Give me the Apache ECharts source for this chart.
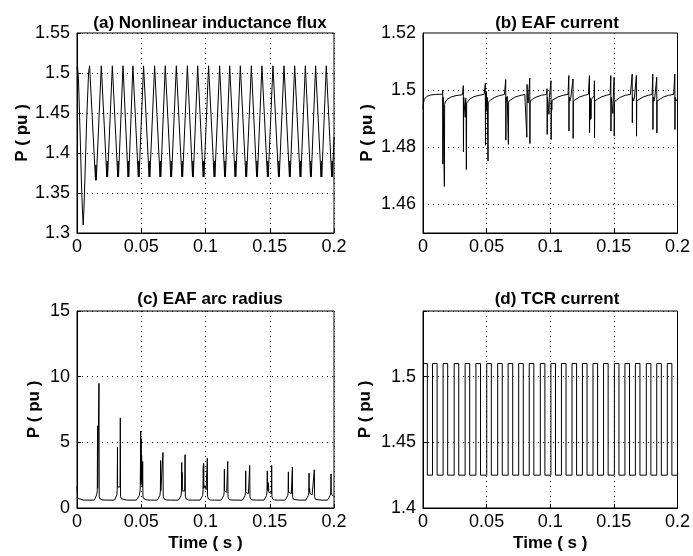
<!DOCTYPE html>
<html><head><meta charset="utf-8">
<script src="https://cdn.jsdelivr.net/npm/echarts@6/dist/echarts.min.js"></script>
<style>html,body{margin:0;padding:0;background:#fff}#c{width:693px;height:556px}</style>
</head><body><div id="c"></div>
<script>
const panelTitles = ['(a) Nonlinear inductance flux', '(b) EAF current', '(c) EAF arc radius', '(d) TCR current'];
const yName = 'P ( pu )';
const xName = 'Time ( s )';
const xTicks = [0, 0.05, 0.1, 0.15, 0.2];
const yTicksA = [1.3, 1.35, 1.4, 1.45, 1.5, 1.55];
const yTicksB = [1.46, 1.48, 1.5, 1.52];
const yTicksC = [0, 5, 10, 15];
const yTicksD = [1.4, 1.45, 1.5];

// (a) Nonlinear inductance flux  [time s, value pu]
const fluxData = [
[0,1.505],[0.0004,1.509],[0.0012,1.49],[0.0025,1.42],[0.0035,1.36],[0.0042,1.33],[0.0048,1.31],[0.0054,1.33],[0.0062,1.37],[0.0075,1.44],[0.0090,1.50],
[0.0098,1.509],[0.0104,1.509],[0.0144,1.366],[0.0147,1.385],[0.0150,1.366],
[0.0189,1.509],[0.0195,1.509],[0.0232,1.37],[0.0235,1.39],[0.0238,1.37],
[0.0275,1.509],[0.0281,1.509],[0.0317,1.37],[0.0320,1.39],[0.0323,1.37],
[0.0358,1.509],[0.0364,1.509],[0.0397,1.37],[0.0400,1.39],[0.0403,1.37],
[0.0435,1.509],[0.0441,1.509],[0.0477,1.37],[0.0480,1.39],[0.0483,1.37],
[0.0518,1.509],[0.0524,1.509],[0.0561,1.37],[0.0564,1.39],[0.0567,1.37],
[0.0604,1.509],[0.0610,1.509],[0.0646,1.37],[0.0649,1.39],[0.0652,1.37],
[0.0687,1.509],[0.0693,1.509],[0.0730,1.37],[0.0733,1.39],[0.0736,1.37],
[0.0773,1.509],[0.0779,1.509],[0.0816,1.37],[0.0819,1.39],[0.0822,1.37],
[0.0859,1.509],[0.0865,1.509],[0.0899,1.37],[0.0902,1.39],[0.0905,1.37],
[0.0939,1.509],[0.0945,1.509],[0.0982,1.37],[0.0985,1.39],[0.0988,1.37],
[0.1024,1.509],[0.1030,1.509],[0.1067,1.37],[0.1070,1.39],[0.1073,1.37],
[0.1110,1.509],[0.1116,1.509],[0.1149,1.37],[0.1152,1.39],[0.1155,1.37],
[0.1188,1.509],[0.1194,1.509],[0.1230,1.37],[0.1233,1.39],[0.1236,1.37],
[0.1271,1.509],[0.1277,1.509],[0.1314,1.37],[0.1317,1.39],[0.1320,1.37],
[0.1357,1.509],[0.1363,1.509],[0.1398,1.37],[0.1401,1.39],[0.1404,1.37],
[0.1439,1.509],[0.1445,1.509],[0.1482,1.37],[0.1485,1.39],[0.1488,1.37],
[0.1525,1.509],[0.1531,1.509],[0.1568,1.37],[0.1571,1.39],[0.1574,1.37],
[0.1611,1.509],[0.1617,1.509],[0.1653,1.37],[0.1656,1.39],[0.1659,1.37],
[0.1694,1.509],[0.1700,1.509],[0.1736,1.37],[0.1739,1.39],[0.1742,1.37],
[0.1777,1.509],[0.1783,1.509],[0.1817,1.37],[0.1820,1.39],[0.1823,1.37],
[0.1857,1.509],[0.1863,1.509],[0.1899,1.37],[0.1902,1.39],[0.1905,1.37],
[0.1940,1.509],[0.1946,1.509],[0.1982,1.37],[0.1985,1.39],[0.1988,1.37],
[0.2000,1.42]
];

// (b) EAF current
const eafCurrentData = [
[0,1.4935],[0.0003,1.4955],[0.001,1.4968],[0.003,1.4978],[0.006,1.4983],[0.010,1.4985],[0.0153,1.4986],
[0.0155,1.5000],[0.0156,1.4741],[0.0158,1.4975],[0.0166,1.4972],[0.0168,1.4663],[0.0170,1.4950],[0.0175,1.4958],[0.019,1.4968],[0.022,1.4976],[0.026,1.4981],[0.031,1.4984],
[0.0315,1.4985],[0.0317,1.5016],[0.0318,1.4784],[0.0320,1.4975],[0.0328,1.4975],[0.0332,1.4905],[0.0336,1.4972],[0.0339,1.4900],[0.0341,1.4722],[0.0343,1.4955],[0.035,1.4962],[0.037,1.497],[0.040,1.4977],[0.044,1.4982],[0.048,1.4985],
[0.0488,1.4986],[0.0490,1.5024],[0.0491,1.4807],[0.0493,1.4990],[0.0496,1.4925],[0.0499,1.4995],[0.0502,1.4930],[0.0505,1.4975],[0.0509,1.4970],[0.0511,1.4752],[0.0513,1.4958],[0.053,1.4965],[0.056,1.4974],[0.060,1.4981],[0.064,1.4985],
[0.0649,1.4986],[0.0650,1.5037],[0.0651,1.4825],[0.0653,1.4975],[0.0658,1.4960],[0.0662,1.4978],[0.0669,1.4972],[0.0671,1.4810],[0.0673,1.4960],[0.069,1.4966],[0.072,1.4975],[0.076,1.4981],[0.080,1.4985],
[0.0814,1.4986],[0.0816,1.4835],[0.0818,1.5020],[0.0820,1.4975],[0.0826,1.4955],[0.0830,1.4978],[0.0837,1.4980],[0.0839,1.5042],[0.0840,1.4813],[0.0842,1.4962],[0.086,1.4968],[0.089,1.4976],[0.093,1.4982],[0.097,1.4985],
[0.0974,1.4986],[0.0975,1.5005],[0.0976,1.4845],[0.0978,1.4975],[0.0985,1.4968],[0.0990,1.4915],[0.0993,1.4975],[0.1004,1.4978],[0.1006,1.5033],[0.1007,1.4827],[0.1009,1.4960],[0.1012,1.4930],[0.1015,1.4965],[0.103,1.4968],[0.106,1.4976],[0.110,1.4982],[0.114,1.4985],
[0.1145,1.4986],[0.1146,1.5051],[0.1147,1.4857],[0.1149,1.4975],[0.1155,1.4962],[0.1162,1.4975],[0.1177,1.4980],[0.1179,1.5039],[0.1180,1.4831],[0.1182,1.4962],[0.120,1.4968],[0.123,1.4976],[0.127,1.4982],[0.130,1.4985],
[0.1307,1.4986],[0.1308,1.5051],[0.1309,1.4851],[0.1311,1.4975],[0.1314,1.4896],[0.1317,1.4970],[0.1320,1.4900],[0.1323,1.4968],[0.1345,1.4980],[0.1347,1.5033],[0.1348,1.4833],[0.1350,1.4962],[0.137,1.4968],[0.140,1.4976],[0.144,1.4982],[0.147,1.4985],
[0.1475,1.4986],[0.1476,1.5051],[0.1477,1.4857],[0.1479,1.4975],[0.1486,1.4968],[0.1492,1.4918],[0.1495,1.4972],[0.1500,1.4975],[0.1502,1.5045],[0.1503,1.4839],[0.1505,1.4960],[0.152,1.4967],[0.155,1.4975],[0.159,1.4982],[0.163,1.4985],
[0.1643,1.4986],[0.1644,1.5056],[0.1645,1.4886],[0.1647,1.4975],[0.1655,1.4962],[0.1662,1.4976],[0.1675,1.4980],[0.1677,1.5051],[0.1678,1.4839],[0.1680,1.4962],[0.170,1.4968],[0.173,1.4976],[0.177,1.4982],[0.180,1.4985],
[0.1805,1.4986],[0.1806,1.5056],[0.1807,1.4862],[0.1809,1.4975],[0.1815,1.4962],[0.1822,1.4976],[0.1835,1.4980],[0.1837,1.5045],[0.1838,1.4850],[0.1840,1.4962],[0.186,1.4968],[0.189,1.4976],[0.193,1.4982],[0.197,1.4985],
[0.1978,1.4986],[0.1979,1.5056],[0.1980,1.4862],[0.1982,1.4975],[0.1990,1.4962],[0.1995,1.4968],[0.2000,1.4970]
];

// (c) EAF arc radius
const arcRadiusData = [
[0,1.6],[0.0003,1.6],[0.0005,0.75],[0.002,0.63],[0.005,0.6],
[0.0135,0.6],[0.0145,0.75],[0.0153,1.0],[0.0158,1.35],[0.0160,6.25],[0.0161,1.5],[0.0165,1.6],[0.0169,1.5],[0.0171,9.49],[0.0173,0.9],[0.0178,0.7],[0.0195,0.62],[0.022,0.6],
[0.0292,0.6],[0.0302,0.75],[0.0310,1.0],[0.0313,1.4],[0.0315,4.64],[0.0316,1.6],[0.0322,1.7],[0.0328,1.5],[0.0335,1.6],[0.0337,6.86],[0.0339,0.9],[0.0345,0.7],[0.036,0.62],[0.039,0.6],
[0.0462,0.6],[0.0472,0.72],[0.0485,0.95],[0.0492,1.4],[0.0496,5.84],[0.0497,1.8],[0.0499,5.3],[0.0500,2.0],[0.0503,4.0],[0.0505,1.8],[0.0509,1.6],[0.0511,3.54],[0.0513,0.9],[0.0520,0.7],[0.054,0.62],[0.057,0.6],
[0.0625,0.6],[0.0637,0.72],[0.0645,0.95],[0.0649,1.3],[0.0651,3.62],[0.0652,1.3],[0.0658,1.4],[0.0665,1.3],[0.0669,4.23],[0.0671,0.9],[0.0678,0.68],[0.070,0.61],[0.073,0.6],
[0.0790,0.6],[0.0802,0.72],[0.0810,0.95],[0.0813,1.3],[0.0815,3.47],[0.0816,1.4],[0.0818,2.7],[0.0819,1.3],[0.0830,1.2],[0.0838,1.3],[0.0841,4.06],[0.0843,0.9],[0.0850,0.68],[0.087,0.61],[0.090,0.6],
[0.0958,0.6],[0.0970,0.72],[0.0978,0.95],[0.0981,1.3],[0.0983,3.24],[0.0984,1.5],[0.0986,3.4],[0.0987,1.5],[0.0995,1.7],[0.1005,1.4],[0.1012,1.3],[0.1014,3.80],[0.1016,0.9],[0.1023,0.68],[0.104,0.61],[0.107,0.6],
[0.1122,0.6],[0.1134,0.72],[0.1142,0.95],[0.1145,1.2],[0.1147,2.96],[0.1148,1.3],[0.1155,1.45],[0.1165,1.2],[0.1171,1.1],[0.1173,3.55],[0.1175,0.85],[0.1182,0.66],[0.120,0.61],[0.123,0.6],
[0.1288,0.6],[0.1300,0.72],[0.1308,0.95],[0.1311,1.2],[0.1313,2.83],[0.1314,1.2],[0.1322,1.3],[0.1334,1.1],[0.1342,1.1],[0.1344,3.24],[0.1346,0.85],[0.1353,0.66],[0.137,0.61],[0.140,0.6],
[0.1455,0.6],[0.1467,0.72],[0.1475,0.95],[0.1479,1.3],[0.1481,2.83],[0.1482,1.4],[0.1484,2.0],[0.1486,1.3],[0.1490,1.9],[0.1493,1.2],[0.1505,1.1],[0.1513,1.1],[0.1515,3.24],[0.1517,0.85],[0.1524,0.66],[0.154,0.61],[0.157,0.6],
[0.1620,0.6],[0.1632,0.72],[0.1640,0.95],[0.1643,1.2],[0.1645,2.75],[0.1646,1.2],[0.1655,1.3],[0.1668,1.1],[0.1674,1.1],[0.1676,3.11],[0.1678,0.85],[0.1685,0.66],[0.170,0.61],[0.173,0.6],
[0.1780,0.6],[0.1792,0.72],[0.1800,0.95],[0.1804,1.2],[0.1806,2.65],[0.1807,1.2],[0.1810,1.5],[0.1813,1.1],[0.1830,1.0],[0.1845,1.05],[0.1847,2.91],[0.1849,0.85],[0.1856,0.66],[0.187,0.61],[0.190,0.6],
[0.1950,0.6],[0.1962,0.72],[0.1970,0.95],[0.1975,1.2],[0.1977,2.6],[0.1978,1.2],[0.1985,1.0],[0.1995,0.9],[0.2,0.88]
];

// (d) TCR current: switching instants and level held after each
const tcrData = [
[0,1.51],[0.0034,1.425],
[0.0075,1.51],[0.0111,1.425],[0.0158,1.51],[0.0194,1.425],[0.0245,1.51],[0.0281,1.425],
[0.0331,1.51],[0.0367,1.425],[0.0416,1.51],[0.0452,1.425],[0.0501,1.51],[0.0537,1.425],
[0.0587,1.51],[0.0623,1.425],[0.0669,1.51],[0.0705,1.425],[0.0752,1.51],[0.0788,1.425],
[0.0835,1.51],[0.0871,1.425],[0.0922,1.51],[0.0958,1.425],[0.1005,1.51],[0.1041,1.425],
[0.1088,1.51],[0.1124,1.425],[0.1171,1.51],[0.1207,1.425],[0.1253,1.51],[0.1289,1.425],
[0.1336,1.51],[0.1372,1.425],[0.1419,1.51],[0.1455,1.425],[0.1504,1.51],[0.1540,1.425],
[0.1587,1.51],[0.1623,1.425],[0.1669,1.51],[0.1705,1.425],[0.1755,1.51],[0.1791,1.425],
[0.1837,1.51],[0.1873,1.425],[0.1920,1.51],[0.1956,1.425],[0.2000,1.425]
];

const FONT = '"Liberation Sans", Arial, Helvetica, sans-serif';
const grids = [
  {left: 77, top: 33, width: 257, height: 200},
  {left: 423, top: 33, width: 258, height: 200},
  {left: 77, top: 311, width: 257, height: 197},
  {left: 423, top: 311, width: 258, height: 197}
];
const dotted = {color: '#000', type: [1, 4], width: 1};

function fmt(v) { return String(+v.toFixed(2)); }

function makeX(i, named) {
  return {
    type: 'value', gridIndex: i, min: xTicks[0], max: xTicks[xTicks.length - 1], interval: 0.05,
    axisLine: {show: true, onZero: false, lineStyle: {color: '#000', width: 1}},
    axisTick: {show: true, inside: true, length: 4, lineStyle: {color: '#000'}},
    axisLabel: {color: '#000', fontFamily: FONT, fontSize: 18, margin: 5, formatter: fmt},
    splitLine: {show: true, lineStyle: dotted},
    name: named ? xName : '', nameLocation: 'middle', nameGap: 27,
    nameTextStyle: {color: '#000', fontFamily: FONT, fontSize: 17, fontWeight: 'bold'}
  };
}
function makeY(i, cfg) {
  return Object.assign({
    type: 'value', gridIndex: i,
    axisLine: {show: true, onZero: false, lineStyle: {color: '#000', width: 1}},
    axisTick: {show: true, inside: true, length: 4, lineStyle: {color: '#000'}},
    splitLine: {show: true, lineStyle: dotted},
    name: yName, nameLocation: 'middle',
    nameTextStyle: {color: '#000', fontFamily: FONT, fontSize: 17, fontWeight: 'bold'}
  }, cfg);
}
const lblStyle = {color: '#000', fontFamily: FONT, fontSize: 18, margin: 7};

const yAxes = [
  makeY(0, {min: yTicksA[0], max: yTicksA[yTicksA.length - 1], interval: 0.05, nameGap: 43,
    axisLabel: Object.assign({formatter: fmt}, lblStyle)}),
  makeY(1, {min: 1.45, max: yTicksB[yTicksB.length - 1], interval: 0.01, nameGap: 47,
    axisTick: {show: false}, splitLine: {show: false},
    axisLabel: Object.assign({formatter: function (v) {
      const s = fmt(v); return yTicksB.map(fmt).indexOf(s) >= 0 ? s : '';
    }}, lblStyle)}),
  makeY(2, {min: yTicksC[0], max: yTicksC[yTicksC.length - 1], interval: 5, nameGap: 34,
    axisLabel: Object.assign({formatter: fmt}, lblStyle)}),
  makeY(3, {min: yTicksD[0], max: 1.55, interval: 0.05, nameGap: 49,
    axisLabel: Object.assign({formatter: function (v) {
      const s = fmt(v); return yTicksD.map(fmt).indexOf(s) >= 0 ? s : '';
    }}, lblStyle)})
];

function lineSeries(i, data, extra) {
  return Object.assign({
    type: 'line', xAxisIndex: i, yAxisIndex: i, data: data, showSymbol: false, symbol: 'none',
    lineStyle: {color: '#000', width: 1}, animation: false, silent: true, sampling: null, z: 3
  }, extra || {});
}

const titleCenters = [[205, 10], [552, 10], [205, 286], [552, 286]];
const option = {
  backgroundColor: '#fff',
  animation: false,
  title: panelTitles.map(function (t, i) {
    return {text: t, left: titleCenters[i][0], top: titleCenters[i][1], textAlign: 'center',
      textStyle: {color: '#000', fontFamily: FONT, fontSize: 17, fontWeight: 'bold'}};
  }),
  grid: grids.map(function (g) { return Object.assign({show: true, borderColor: '#000', borderWidth: 1, backgroundColor: '#fff'}, g); }),
  xAxis: [makeX(0, false), makeX(1, false), makeX(2, true), makeX(3, true)],
  yAxis: yAxes,
  series: [
    lineSeries(0, fluxData),
    lineSeries(1, eafCurrentData, {markLine: {silent: true, symbol: 'none', label: {show: false},
      lineStyle: dotted, animation: false, z: 2,
      data: yTicksB.slice(0, 3).map(function (v) { return {yAxis: v}; })}}),
    lineSeries(2, arcRadiusData),
    lineSeries(3, tcrData, {step: 'end'})
  ]
};
const chart = echarts.init(document.getElementById('c'));
chart.setOption(option);
</script>
</body></html>
